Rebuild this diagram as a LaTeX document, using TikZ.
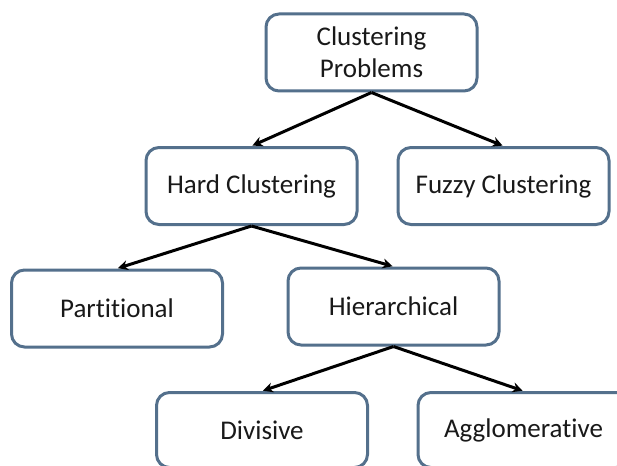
\documentclass[tikz,border=0pt]{standalone}
\usepackage{fontspec}
\setmainfont{Carlito}[Ligatures=NoCommon]
\usetikzlibrary{arrows.meta}
\definecolor{boxline}{RGB}{84,112,140}
\definecolor{txt}{RGB}{25,25,25}
\tikzset{
  cbox/.style={draw=boxline, line width=3pt, rounded corners=13pt, fill=white,
    minimum width=211pt, minimum height=77pt, inner sep=0pt, align=center,
    font=\fontsize{27}{32}\selectfont, text=txt},
  link/.style={line width=3pt, black, -{Stealth[length=10pt,width=10pt]}, shorten >=1pt}
}
\begin{document}
\begin{tikzpicture}[x=1pt,y=-1pt]
\useasboundingbox (0,0) rectangle (617,465);
\clip (0,0) rectangle (617,465);
\fill[white] (0,0) rectangle (617,465);
\node[cbox] (cp) at (371.5,52.5) {Clustering\\Problems};
\node[cbox] (hc) at (251.5,186) {Hard Clustering};
\node[cbox] (fc) at (503.5,186) {Fuzzy Clustering};
\node[cbox] (pa) at (117,308.5) {Partitional};
\node[cbox] (hi) at (393.5,306.5) {Hierarchical};
\node[cbox, minimum height=75pt] (di) at (262,430) {Divisive};
\node[cbox, minimum height=75pt] (ag) at (523.5,430) {Agglomerative};
\draw[link] (cp.south) -- (hc.north);
\draw[link] (cp.south) -- (fc.north);
\draw[link] (hc.south) -- (pa.north);
\draw[link] (hc.south) -- (hi.north);
\draw[link] (hi.south) -- (di.north);
\draw[link] (hi.south) -- (ag.north);
\end{tikzpicture}
\end{document}
